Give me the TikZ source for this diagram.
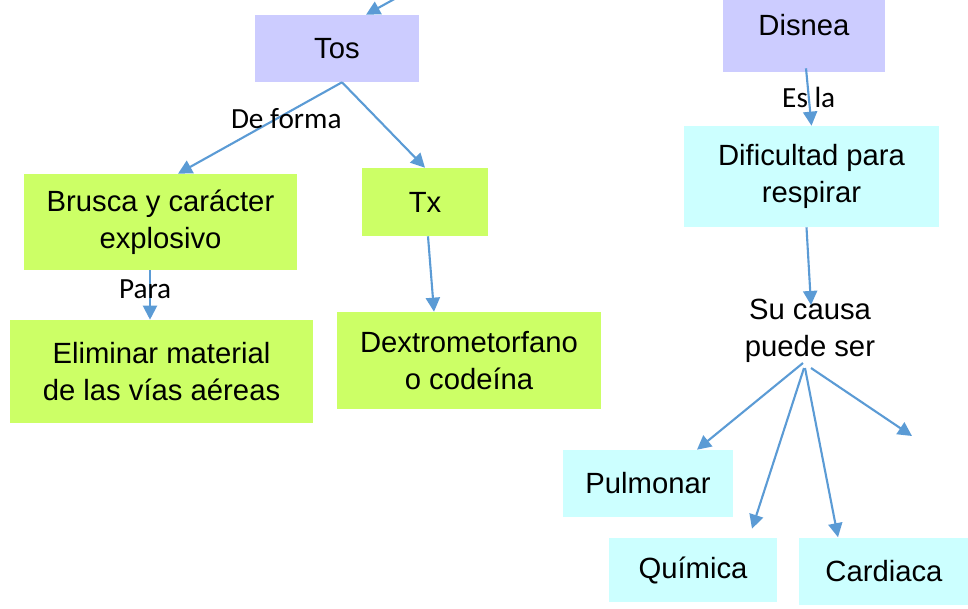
\documentclass[tikz,border=0pt]{standalone}
\usepackage{fontspec}
\setmainfont{Liberation Sans}
\newfontfamily\calibri{Carlito}
\usetikzlibrary{arrows.meta,calc}
\definecolor{lila}{HTML}{CCCCFF}
\definecolor{verde}{HTML}{CCFF66}
\definecolor{celeste}{HTML}{CCFFFF}
\definecolor{flecha}{HTML}{5B9BD5}

\begin{document}
\begin{tikzpicture}[x=0.025cm, y=-0.025cm, font=\fontsize{20.8}{26.3}\selectfont,
        caja/.style = {inner sep=0pt, align=center},
        morado/.style = {caja, fill=lila},
        lima/.style = {caja, fill=verde},
        cian/.style = {caja, fill=celeste},
        link/.style = {draw=flecha, line width=1.5pt, -{Triangle[length=10pt, width=10pt]}},
        etiq/.style = {font=\calibri\fontsize{20.8}{24}\selectfont, inner sep=0pt}]
        \useasboundingbox (0,0) rectangle (968,608);
        \node[morado, minimum width=4.1cm, minimum height=1.675cm] (tos) at (337,48.5) {Tos};
        \node[lima, minimum width=6.825cm, minimum height=2.4cm] (brusca) at (160.5,222) {Brusca y carácter\\explosivo};
        \node[lima, minimum width=3.15cm, minimum height=1.7cm] (tx) at (425,202) {Tx};
        \node[lima, minimum width=7.575cm, minimum height=2.575cm] (eliminar) at (161.5,371.5) {Eliminar material\\de las vías aéreas};
        \node[lima, minimum width=6.6cm, minimum height=2.425cm] (dextro) at (469,360.5) {Dextrometorfano\\o codeína};
        \node[morado, minimum width=4.05cm, minimum height=2.35cm] (disnea) at (804,25) {Disnea};
        \node[cian, minimum width=6.375cm, minimum height=2.525cm] (dificultad) at (811.5,176.5) {Dificultad para\\respirar};
        \node[caja] (causa) at (810,331) {Su causa\\puede ser};
        \node[cian, minimum width=4.25cm, minimum height=1.675cm] (pulmonar) at (648,483.5) {Pulmonar};
        \node[cian, minimum width=4.2cm, minimum height=1.6cm] (quimica) at (693,570) {Química};
        \node[cian, minimum width=4.25cm, minimum height=1.675cm] (cardiaca) at (884,571) {Cardiaca};
        \coordinate (entra) at (398,-3);
        \coordinate (suelta) at (912,436);

        \draw[link] (entra) -- ($(tos.north)+(29,0)$);
        \draw[link] ($(tos.south)+(5,0)$) -- node[etiq, pos=0.34, yshift=-3.5pt] {De forma} ($(brusca.north)+(17.5,0)$);
        \draw[link] ($(tos.south)+(5,0)$) -- (tx.north);
        \draw[link] ($(tx.south)+(3,0)$) -- ($(dextro.north)+(-35,0)$);
        \draw[link] ($(brusca.south)+(-10.5,0)$) -- node[etiq, pos=0.38, xshift=-3.5pt] {Para} ($(eliminar.north)+(-11.5,0)$);
        \draw[link] ($(disnea.south)+(2,-4)$) -- node[etiq] {Es la} (dificultad.north);
        \draw[link] ($(dificultad.south)+(-5,0)$) -- ($(causa)+(1,-26)$);
        \draw[link] ($(causa)+(-7,32)$) -- ($(pulmonar.north)+(49,0)$);
        \draw[link] ($(causa)+(-6,37)$) -- ($(quimica.north)+(59,-9)$);
        \draw[link] ($(causa)+(-5,37)$) -- ($(cardiaca.north)+(-46,0)$);
        \draw[link] ($(causa)+(1,37)$) -- (suelta);
    \end{tikzpicture}
\end{document}
